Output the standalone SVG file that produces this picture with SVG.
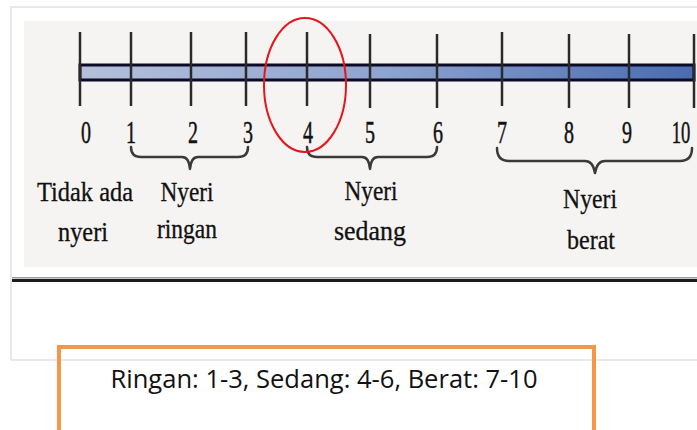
<svg xmlns="http://www.w3.org/2000/svg" width="697" height="430" viewBox="0 0 697 430">
<style>
.tick{stroke:#2a2a2a;stroke-width:2.5}
.num{font-family:"Liberation Serif",serif;font-size:31px;fill:#111;stroke:#111;stroke-width:0.5;text-anchor:middle}
.lbl{font-family:"Liberation Serif",serif;font-size:27px;fill:#111;stroke:#111;stroke-width:0.3;text-anchor:middle}
.brace{fill:none;stroke:#3a3a3a;stroke-width:2.5;stroke-linejoin:round;stroke-linecap:round}
</style>
<defs>
<linearGradient id="barGrad" x1="0" y1="0" x2="1" y2="0">
<stop offset="0" stop-color="#b4c0da"/>
<stop offset="0.5" stop-color="#8ea3cf"/>
<stop offset="1" stop-color="#4a6bb0"/>
</linearGradient>
</defs>
<rect width="697" height="430" fill="#ffffff"/>
<g id="frame">
<path d="M699,7 H11 V360 H699" fill="#ffffff" stroke="#e2e2e2" stroke-width="1.5"/>
<rect x="24" y="21" width="673" height="246" fill="#f6f4f3"/>
<rect x="12" y="277" width="685" height="1.5" fill="#9a9a9a"/>
<rect x="12" y="279" width="685" height="3" fill="#1c1c1c"/>
</g>
<g id="scale-bar">
<rect x="80" y="65" width="614" height="15" fill="url(#barGrad)" stroke="#0b0b26" stroke-width="3"/>
</g>
<g id="ticks">
<line class="tick" x1="80" y1="32" x2="80" y2="106"/>
<line class="tick" x1="131" y1="32" x2="131" y2="106"/>
<line class="tick" x1="191" y1="32" x2="191" y2="106"/>
<line class="tick" x1="246" y1="32" x2="246" y2="106"/>
<line class="tick" x1="307" y1="32" x2="307" y2="106"/>
<line class="tick" x1="370" y1="34" x2="370" y2="108"/>
<line class="tick" x1="437" y1="34" x2="437" y2="108"/>
<line class="tick" x1="502" y1="32" x2="502" y2="106"/>
<line class="tick" x1="569" y1="34" x2="569" y2="108"/>
<line class="tick" x1="629" y1="34" x2="629" y2="108"/>
<line class="tick" x1="694" y1="34" x2="694" y2="108"/>
</g>
<g id="numbers">
<text class="num" x="86" y="143" textLength="10" lengthAdjust="spacingAndGlyphs">0</text>
<text class="num" x="131" y="143" textLength="10" lengthAdjust="spacingAndGlyphs">1</text>
<text class="num" x="193" y="143" textLength="10" lengthAdjust="spacingAndGlyphs">2</text>
<text class="num" x="248" y="143" textLength="10" lengthAdjust="spacingAndGlyphs">3</text>
<text class="num" x="308" y="143" textLength="10" lengthAdjust="spacingAndGlyphs">4</text>
<text class="num" x="370" y="143" textLength="10" lengthAdjust="spacingAndGlyphs">5</text>
<text class="num" x="438" y="143" textLength="10" lengthAdjust="spacingAndGlyphs">6</text>
<text class="num" x="502" y="143" textLength="10" lengthAdjust="spacingAndGlyphs">7</text>
<text class="num" x="569" y="143" textLength="10" lengthAdjust="spacingAndGlyphs">8</text>
<text class="num" x="627" y="143" textLength="10" lengthAdjust="spacingAndGlyphs">9</text>
<text class="num" transform="translate(681,143) scale(0.6,1)">10</text>
</g>
<g id="braces">
<path class="brace" d="M131,147 Q131,157 141,157 L182,157 Q189,157 190,169 Q191,157 198,157 L238,157 Q248,157 248,147"/>
<path class="brace" d="M307,147 Q307,157 317,157 L362,157 Q369,157 370,169 Q371,157 378,157 L427,157 Q437,157 437,147"/>
<path class="brace" d="M497,148 Q497,161 509,161 L585,161 Q593,161 595,173 Q597,161 605,161 L680,161 Q692,161 692,148"/>
</g>
<g id="label-none">
<text class="lbl" x="85" y="201" textLength="96" lengthAdjust="spacingAndGlyphs">Tidak ada</text>
<text class="lbl" x="83" y="241" textLength="50" lengthAdjust="spacingAndGlyphs">nyeri</text>
</g>
<g id="label-mild">
<text class="lbl" x="187" y="201" textLength="53" lengthAdjust="spacingAndGlyphs">Nyeri</text>
<text class="lbl" x="187" y="238" textLength="60" lengthAdjust="spacingAndGlyphs">ringan</text>
</g>
<g id="label-moderate">
<text class="lbl" x="371" y="200" textLength="53" lengthAdjust="spacingAndGlyphs">Nyeri</text>
<text class="lbl" x="370" y="240" textLength="72" lengthAdjust="spacingAndGlyphs">sedang</text>
</g>
<g id="label-severe">
<text class="lbl" x="590" y="208" textLength="54" lengthAdjust="spacingAndGlyphs">Nyeri</text>
<text class="lbl" x="591" y="249" textLength="48" lengthAdjust="spacingAndGlyphs">berat</text>
</g>
<g id="highlight">
<ellipse cx="305" cy="85" rx="41" ry="67" fill="none" stroke="#e8141b" stroke-width="2"/>
</g>
<g id="legend">
<path d="M59,432 V347 H594 V432" fill="none" stroke="#f79646" stroke-width="4"/>
<text x="324" y="388" font-family="'Open Sans', 'Liberation Sans', sans-serif" font-size="25" fill="#111" text-anchor="middle" textLength="427" lengthAdjust="spacingAndGlyphs">Ringan: 1-3, Sedang: 4-6, Berat: 7-10</text>
</g>
</svg>
